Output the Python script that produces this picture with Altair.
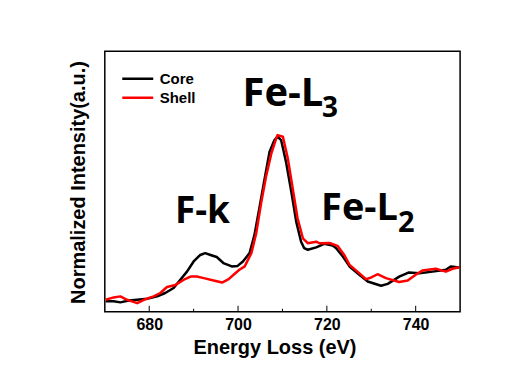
import altair as alt
import pandas as pd

# Core (black) spectrum
core_e = [670.2, 672.0, 673.5, 675.4, 677.3, 679.5, 681.8, 683.6, 685.5, 687.0,
          688.5, 690.0, 691.5, 692.6, 693.8, 695.2, 696.7, 698.6, 699.9, 701.1,
          702.6, 703.7, 704.8, 706.0, 707.1, 708.2, 708.9, 709.7, 710.8, 712.0,
          713.1, 714.2, 714.9, 715.7, 717.6, 719.4, 721.3, 722.1, 723.6, 725.1,
          726.9, 729.2, 732.2, 733.7, 736.3, 738.5, 740.8, 743.8, 746.8, 747.9, 749.8]
core_v = [0.040, 0.040, 0.036, 0.043, 0.046, 0.050, 0.059, 0.072, 0.091, 0.123,
          0.154, 0.193, 0.218, 0.225, 0.218, 0.210, 0.187, 0.174, 0.176, 0.193,
          0.225, 0.295, 0.397, 0.512, 0.614, 0.659, 0.672, 0.659, 0.576, 0.461,
          0.346, 0.269, 0.244, 0.238, 0.247, 0.261, 0.254, 0.244, 0.212, 0.174,
          0.148, 0.116, 0.100, 0.107, 0.135, 0.151, 0.148, 0.154, 0.161, 0.174, 0.170]

# Shell (red) spectrum
shell_e = [670.2, 672.0, 673.5, 675.0, 676.1, 677.3, 678.8, 681.0, 682.5, 684.0,
           685.9, 687.8, 689.3, 690.7, 692.3, 694.5, 696.4, 697.9, 699.0, 700.3,
           701.5, 703.0, 704.1, 705.2, 706.3, 707.5, 708.6, 708.9, 710.1, 711.2,
           712.3, 713.4, 714.6, 715.7, 717.6, 718.3, 720.6, 722.4, 723.9, 725.1,
           726.9, 728.8, 729.9, 731.4, 733.3, 736.3, 738.2, 740.0, 741.5, 744.5,
           746.8, 748.3, 749.8]
shell_v = [0.046, 0.055, 0.059, 0.046, 0.040, 0.033, 0.046, 0.059, 0.072, 0.095,
           0.103, 0.123, 0.135, 0.135, 0.129, 0.120, 0.112, 0.125, 0.142, 0.161,
           0.174, 0.225, 0.302, 0.417, 0.518, 0.608, 0.666, 0.678, 0.672, 0.589,
           0.474, 0.359, 0.282, 0.263, 0.269, 0.263, 0.264, 0.253, 0.218, 0.180,
           0.154, 0.125, 0.131, 0.144, 0.129, 0.114, 0.120, 0.142, 0.158, 0.165,
           0.154, 0.165, 0.171]

series_names = ["Core", "Shell"]
series_colors = ["#000000", "#ff0000"]

x_major_ticks = [680, 700, 720, 740]
x_minor_ticks = [690, 710, 730]

# peak annotations: text, energy, intensity, font size
ann_text = ["Fe-L", "3", "F-k", "Fe-L", "2"]
ann_x = [701.0, 718.9, 685.8, 718.7, 736.0]
ann_y = [0.789, 0.747, 0.341, 0.352, 0.306]
ann_size = [40, 28, 37, 38, 29]

df = pd.DataFrame({
    "energy": core_e + shell_e,
    "intensity": core_v + shell_v,
    "series": ["Core"] * len(core_e) + ["Shell"] * len(shell_e),
})
ann = pd.DataFrame({"label": ann_text, "energy": ann_x, "intensity": ann_y, "size": ann_size})

xscale = alt.Scale(domain=[670, 750], nice=False, zero=False)
yscale = alt.Scale(domain=[0, 1], nice=False, zero=False)

lines = alt.Chart(df).mark_line(strokeWidth=2.5, strokeJoin="round").encode(
    x=alt.X("energy:Q", scale=xscale,
            axis=alt.Axis(title="Energy Loss (eV)", values=x_major_ticks, format="d",
                          ticks=False, tickSize=0, domain=False, grid=False,
                          labelFont="Liberation Sans", labelFontWeight="bold",
                          labelFontSize=16, labelColor="black",
                          labelBaseline="alphabetic", labelPadding=18,
                          titleFont="Liberation Sans", titleFontWeight="bold",
                          titleFontSize=20, titleColor="black",
                          titleBaseline="alphabetic", titleX=170, titleY=42,
                          titleAlign="center")),
    y=alt.Y("intensity:Q", scale=yscale,
            axis=alt.Axis(title="Normalized Intensity(a.u.)", labels=False, ticks=False,
                          domain=False, grid=False,
                          titleFont="Liberation Sans", titleFontWeight="bold",
                          titleFontSize=20, titleColor="black",
                          titleAngle=270, titleBaseline="alphabetic",
                          titleAlign="center", titleX=-20, titleY=131)),
    color=alt.Color("series:N",
                    scale=alt.Scale(domain=series_names, range=series_colors),
                    legend=alt.Legend(title=None, orient="none", legendX=16, legendY=18,
                                      symbolType="stroke", symbolSize=961,
                                      symbolStrokeWidth=2.5, clipHeight=19,
                                      labelFont="Liberation Sans", labelFontWeight="bold",
                                      labelFontSize=15, labelColor="black",
                                      labelOffset=5, padding=0, rowPadding=0)),
    order=alt.Order("series:N"),
)

major = alt.Chart(pd.DataFrame({"t": x_major_ticks})).mark_rule(color="black", strokeWidth=1).encode(
    x=alt.X("t:Q", scale=xscale), y=alt.value(261), y2=alt.value(255))
minor = alt.Chart(pd.DataFrame({"t": x_minor_ticks})).mark_rule(color="black", strokeWidth=1).encode(
    x=alt.X("t:Q", scale=xscale), y=alt.value(261), y2=alt.value(258))

texts = alt.Chart(ann).mark_text(font="Open Sans", fontWeight="bold", align="left",
                                  baseline="alphabetic", color="black").encode(
    x=alt.X("energy:Q", scale=xscale),
    y=alt.Y("intensity:Q", scale=yscale),
    text="label:N",
    size=alt.Size("size:Q", scale=None, legend=None),
)

chart = alt.layer(lines, major, minor, texts).properties(
    width=356, height=261,
    padding={"left": 97, "top": 43, "right": 50, "bottom": 50},
    autosize=alt.AutoSizeParams(type="none"),
    background="white",
).configure_view(stroke="black", strokeWidth=1.5)

chart.save("out.html", embed_options={"renderer": "svg", "actions": False})
